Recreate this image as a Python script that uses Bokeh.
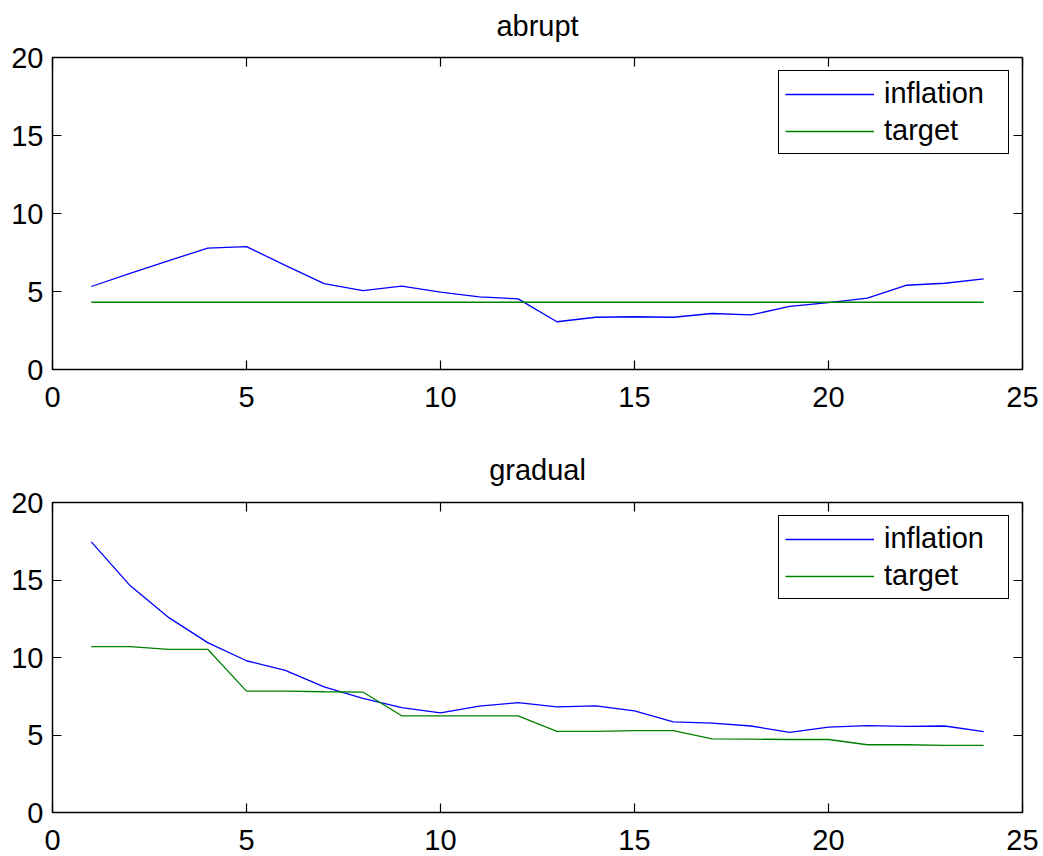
from bokeh.plotting import figure
from bokeh.models import Range1d, LinearAxis, FixedTicker, Legend, LegendItem, Column
from bokeh.embed import file_html
from bokeh.resources import INLINE

periods = list(range(1, 25))
abrupt_inflation = [5.32, 6.16, 6.98, 7.78, 7.88, 6.67, 5.51, 5.06, 5.34, 4.96, 4.66, 4.53,
                    3.06, 3.35, 3.38, 3.35, 3.59, 3.50, 4.04, 4.29, 4.57, 5.40, 5.53, 5.81]
abrupt_target = [4.31] * 24
gradual_inflation = [17.46, 14.64, 12.57, 10.96, 9.79, 9.17, 8.11, 7.37, 6.77, 6.43, 6.86, 7.09,
                     6.81, 6.88, 6.56, 5.85, 5.77, 5.58, 5.17, 5.51, 5.60, 5.56, 5.58, 5.22]
gradual_target = [10.70, 10.70, 10.53, 10.53, 7.83, 7.83, 7.79, 7.77, 6.24, 6.24, 6.24, 6.24,
                  5.24, 5.24, 5.28, 5.28, 4.75, 4.73, 4.71, 4.71, 4.37, 4.37, 4.33, 4.33]
x_ticks = [0, 5, 10, 15, 20, 25]
y_ticks = [0, 5, 10, 15, 20]
titles = ["abrupt", "gradual"]
series_names = ["inflation", "target"]

FONT = "Liberation Sans"
TICK_FS = "29px"


def style_axis(ax, ticks, show_labels):
    ax.ticker = FixedTicker(ticks=ticks)
    ax.axis_line_color = None
    ax.major_tick_in = 9
    ax.major_tick_out = 0
    ax.major_tick_line_color = "black"
    ax.major_tick_line_width = 1.2
    ax.minor_tick_line_color = None
    ax.major_label_text_font = FONT
    ax.major_label_text_color = "black"
    if show_labels:
        ax.major_label_text_font_size = TICK_FS
    else:
        ax.major_label_overrides = {t: "" for t in ticks}
        ax.major_label_text_font_size = "1px"
        ax.major_label_standoff = 0


def make_panel(title, infl, targ, height, top, bottom, title_standoff, margin):
    p = figure(width=1043, height=height, output_backend="svg", toolbar_location=None,
               x_range=Range1d(0, 25), y_range=Range1d(0, 20),
               min_border_left=52, min_border_right=21,
               min_border_top=top, min_border_bottom=bottom, margin=margin)
    p.title.text = title
    p.title.align = "center"
    p.title.text_font = FONT
    p.title.text_font_size = "29px"
    p.title.text_font_style = "normal"
    p.title.text_color = "black"
    p.title.standoff = title_standoff
    p.grid.visible = False
    p.outline_line_color = "black"
    p.outline_line_width = 1.5
    p.outline_line_alpha = 1
    p.background_fill_color = "white"
    p.border_fill_color = "white"

    style_axis(p.xaxis[0], x_ticks, True)
    style_axis(p.yaxis[0], y_ticks, True)
    p.xaxis[0].major_label_standoff = 17
    p.yaxis[0].major_label_standoff = 9

    ax_top = LinearAxis()
    style_axis(ax_top, x_ticks, False)
    p.add_layout(ax_top, "above")
    ax_right = LinearAxis()
    style_axis(ax_right, y_ticks, False)
    p.add_layout(ax_right, "right")

    r1 = p.line(periods, infl, line_color="#0000FF", line_width=1.3)
    r2 = p.line(periods, targ, line_color="#008000", line_width=1.3)

    legend = Legend(items=[LegendItem(label=series_names[0], renderers=[r1]),
                           LegendItem(label=series_names[1], renderers=[r2])],
                    location="top_right")
    legend.margin = 13
    legend.padding = 6
    legend.spacing = 4
    legend.glyph_width = 89
    legend.glyph_height = 22
    legend.label_height = 22
    legend.label_width = 118
    legend.label_standoff = 10
    legend.label_text_font = FONT
    legend.label_text_font_size = "29px"
    legend.label_text_color = "black"
    legend.border_line_color = "black"
    legend.border_line_alpha = 1
    legend.border_line_width = 1.3
    legend.background_fill_alpha = 1
    p.add_layout(legend, "center")
    return p


p1 = make_panel(titles[0], abrupt_inflation, abrupt_target, 443, 66, 65, 32, (-9, 0, 0, 0))
p2 = make_panel(titles[1], gradual_inflation, gradual_target, 422, 68, 44, 34, (0, 0, 0, 0))

layout = Column(children=[p1, p2], spacing=0)
open("out.html", "w").write(file_html(layout, INLINE))
